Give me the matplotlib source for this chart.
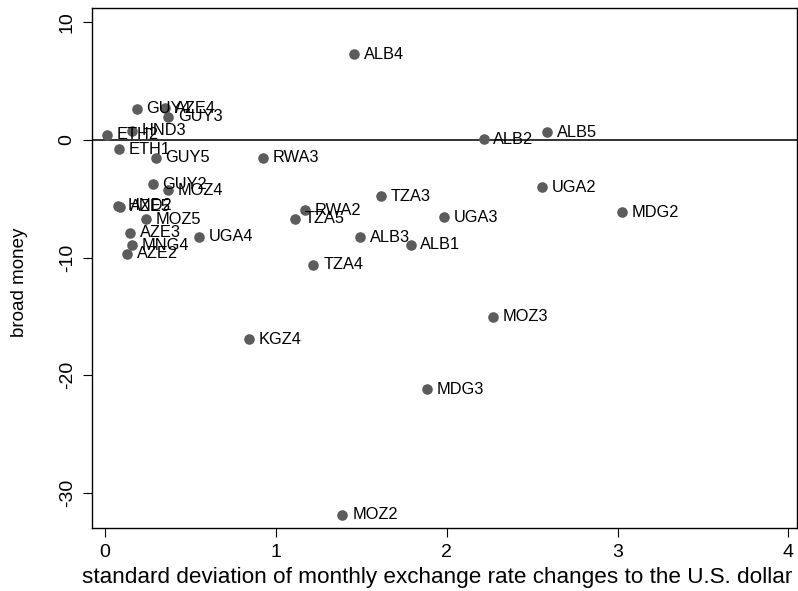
import matplotlib
matplotlib.use("Agg")
import matplotlib.pyplot as plt

plt.rcParams['font.family'] = ['Liberation Sans', 'DejaVu Sans']
plt.rcParams['axes.unicode_minus'] = False

labels = ["ALB4", "GUY4", "AZE4", "GUY3", "HND3", "ETH2", "ETH1", "GUY5", "RWA3",
          "ALB2", "ALB5", "GUY2", "MOZ4", "UGA2", "TZA3", "HND2", "AZE5", "MOZ5",
          "RWA2", "TZA5", "UGA3", "MDG2", "AZE3", "UGA4", "ALB3", "ALB1", "MNG4",
          "AZE2", "TZA4", "MOZ3", "KGZ4", "MDG3", "MOZ2"]
sd_fx = [1.459, 0.186, 0.35, 0.37, 0.156, 0.01, 0.084, 0.297, 0.924,
         2.216, 2.589, 0.279, 0.371, 2.56, 1.615, 0.075, 0.087, 0.238,
         1.172, 1.113, 1.984, 3.027, 0.146, 0.553, 1.494, 1.789, 0.16,
         0.13, 1.22, 2.269, 0.842, 1.885, 1.39]
broad_money = [7.29, 2.64, 2.72, 1.96, 0.79, 0.43, -0.77, -1.5, -1.5,
               0.085, 0.65, -3.74, -4.26, -4.0, -4.77, -5.6, -5.65, -6.75,
               -5.96, -6.67, -6.58, -6.15, -7.9, -8.23, -8.26, -8.91, -8.95,
               -9.65, -10.58, -15.04, -16.94, -21.2, -31.86]

fig = plt.figure(figsize=(7.98, 5.91), dpi=100)
ax = fig.add_axes([0.1149, 0.1061, 0.8838, 0.8799])

ax.axhline(0, color='#333333', lw=1.4, zorder=1)
ax.scatter(sd_fx, broad_money, s=58, color='#5c5c5c', zorder=2, linewidths=0)
for lab, x, y in zip(labels, sd_fx, broad_money):
    ax.annotate(lab, (x, y), xytext=(7, 0), textcoords='offset points',
                va='center', ha='left', fontsize=11.8, color='black', zorder=3)

ax.set_xlim(-0.078, 4.05)
ax.set_ylim(-33.0, 11.2)
ax.set_xticks([0, 1, 2, 3, 4])
ax.set_yticks([10, 0, -10, -20, -30])
ax.tick_params(axis='both', direction='out', length=6.5, width=0.8,
               labelsize=14, pad=5)
for t in ax.get_yticklabels():
    t.set_rotation(90)
    t.set_va('center')
ax.set_xlabel("standard deviation of monthly exchange rate changes to the U.S. dollar",
              fontsize=16.2, labelpad=0)
ax.xaxis.set_label_coords(0.49, -0.075)
ax.set_ylabel("broad money", fontsize=13.5)
ax.yaxis.set_label_coords(-0.09, 0.473)
for s in ax.spines.values():
    s.set_linewidth(1.0)

fig.savefig("out.png", dpi=100)
